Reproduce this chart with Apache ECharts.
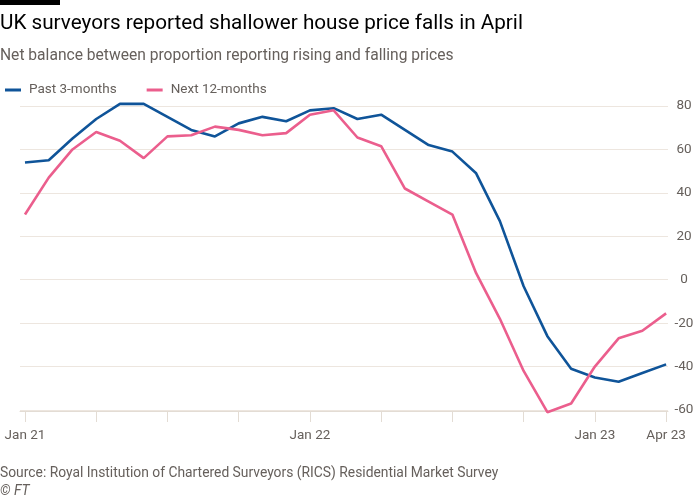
<!DOCTYPE html>
<html><head><meta charset="utf-8">
<script src="https://cdn.jsdelivr.net/npm/echarts@6/dist/echarts.min.js"></script>
<style>html,body{margin:0;padding:0;background:#fff}#c{width:700px;height:500px}</style>
</head><body><div id="c"></div>
<script>
const months = ["Jan 21","Feb 21","Mar 21","Apr 21","May 21","Jun 21","Jul 21","Aug 21","Sep 21","Oct 21","Nov 21","Dec 21",
  "Jan 22","Feb 22","Mar 22","Apr 22","May 22","Jun 22","Jul 22","Aug 22","Sep 22","Oct 22","Nov 22","Dec 22",
  "Jan 23","Feb 23","Mar 23","Apr 23"];
const past3 = [54,55,65,74,81,81,75,69,66,72,75,73,78,79,74,76,69,62,59,49,27,-3,-26,-41,-45,-47,-43,-39];
const next12 = [30,47,60,68,64,56,66,66.5,70.5,69,66.5,67.5,76,78,65.5,61.5,42,36,30,3,-18,-42,-61,-57,-40,-27,-23.5,-15.5];
const xTickIdx = [0,3,6,9,12,15,18,21,24,27];
const xLabelIdx = [0,12,24,27];

const FONT = "Roboto";
const GREY = "#66605c";
const chart = echarts.init(document.getElementById('c'), null, {renderer:'canvas'});
const toPts = arr => arr.map((v,i)=>[i,v]);
chart.setOption({
  backgroundColor:'#ffffff',
  animation:false,
  textStyle:{fontFamily:FONT},
  graphic:[
    {type:'rect', shape:{x:0,y:0,width:60,height:5}, style:{fill:'#000'}},
    {type:'text', left:0, top:13, style:{text:'UK surveyors reported shallower house price falls in April', fontFamily:FONT, fontSize:20.7, fill:'#000'}},
    {type:'text', left:0, top:48.5, style:{text:'Net balance between proportion reporting rising and falling prices', fontFamily:FONT, fontSize:15.6, fill:GREY}},
    {type:'text', left:0, top:467, style:{text:'Source: Royal Institution of Chartered Surveyors (RICS) Residential Market Survey', fontFamily:FONT, fontSize:13.85, fill:GREY}},
    {type:'text', left:0, top:485, style:{text:'© FT', fontFamily:FONT, fontSize:13.85, fontStyle:'italic', fill:GREY}}
  ],
  legend:{
    left:0, top:78, icon:'rect', itemWidth:16, itemHeight:3, itemGap:30,
    textStyle:{color:GREY, fontSize:13.5, fontFamily:FONT, padding:[0,0,0,3]},
    data:['Past 3-months','Next 12-months']
  },
  grid:{left:20, right:32, top:106, bottom:90},
  xAxis:{
    type:'value', min:-0.21, max:27.08, offset:1,
    splitLine:{show:false},
    axisLine:{show:true, onZero:false, lineStyle:{color:'#e3dcd4', width:1}},
    axisTick:{show:true, length:11, lineStyle:{color:'#e3dcd4'}, customValues:xTickIdx},
    axisLabel:{show:true, customValues:xLabelIdx, margin:18, color:GREY, fontSize:13.5, fontFamily:FONT,
      formatter:v=>months[Math.round(v)]}
  },
  yAxis:{
    type:'value', position:'right', min:-60, max:80, interval:20,
    axisLine:{show:false}, axisTick:{show:false},
    splitLine:{lineStyle:{color:'#ede6df', width:1}},
    axisLabel:{color:GREY, fontSize:13.5, fontFamily:FONT, align:'center', margin:16}
  },
  series:[
    {name:'Past 3-months', type:'line', data:toPts(past3), symbol:'none', clip:false,
      lineStyle:{color:'#0f5499', width:2.6}, itemStyle:{color:'#0f5499'}},
    {name:'Next 12-months', type:'line', data:toPts(next12), symbol:'none', clip:false,
      lineStyle:{color:'#eb5e8d', width:2.6}, itemStyle:{color:'#eb5e8d'}}
  ]
});
</script></body></html>
